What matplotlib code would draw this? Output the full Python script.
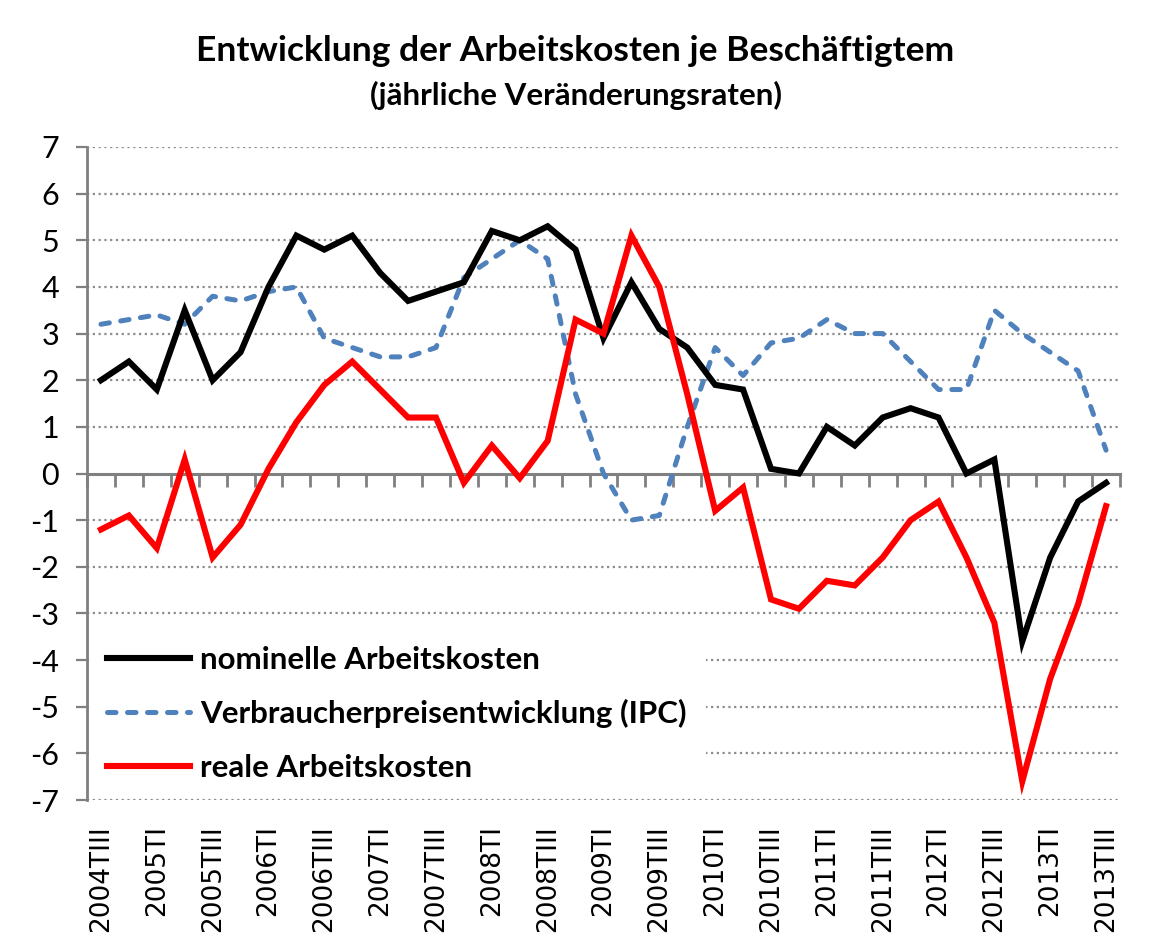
import matplotlib
matplotlib.use("Agg")
import matplotlib.pyplot as plt
from matplotlib.ticker import FixedLocator, NullFormatter

quarters = [
    "2004TIII", "2004TIV",
    "2005TI", "2005TII", "2005TIII", "2005TIV",
    "2006TI", "2006TII", "2006TIII", "2006TIV",
    "2007TI", "2007TII", "2007TIII", "2007TIV",
    "2008TI", "2008TII", "2008TIII", "2008TIV",
    "2009TI", "2009TII", "2009TIII", "2009TIV",
    "2010TI", "2010TII", "2010TIII", "2010TIV",
    "2011TI", "2011TII", "2011TIII", "2011TIV",
    "2012TI", "2012TII", "2012TIII", "2012TIV",
    "2013TI", "2013TII", "2013TIII",
]

nominelle = [2.0, 2.4, 1.8, 3.5, 2.0, 2.6, 4.0, 5.1, 4.8, 5.1,
             4.3, 3.7, 3.9, 4.1, 5.2, 5.0, 5.3, 4.8, 2.9, 4.1,
             3.1, 2.7, 1.9, 1.8, 0.1, 0.0, 1.0, 0.6, 1.2, 1.4,
             1.2, 0.0, 0.3, -3.6, -1.8, -0.6, -0.2]

ipc = [3.2, 3.3, 3.4, 3.2, 3.8, 3.7, 3.9, 4.0, 2.9, 2.7,
       2.5, 2.5, 2.7, 4.2, 4.6, 5.0, 4.6, 1.7, 0.0, -1.0,
       -0.9, 1.0, 2.7, 2.1, 2.8, 2.9, 3.3, 3.0, 3.0, 2.4,
       1.8, 1.8, 3.5, 3.0, 2.6, 2.2, 0.5]

reale = [-1.2, -0.9, -1.6, 0.3, -1.8, -1.1, 0.1, 1.1, 1.9, 2.4,
         1.8, 1.2, 1.2, -0.2, 0.6, -0.1, 0.7, 3.3, 3.0, 5.1,
         4.0, 1.7, -0.8, -0.3, -2.7, -2.9, -2.3, -2.4, -1.8, -1.0,
         -0.6, -1.8, -3.2, -6.6, -4.4, -2.8, -0.7]

series_labels = ["nominelle Arbeitskosten",
                 "Verbraucherpreisentwicklung (IPC)",
                 "reale Arbeitskosten"]
y_ticks = list(range(-7, 8))
y_min, y_max = -7, 7

title = "Entwicklung der Arbeitskosten je Beschäftigtem"
subtitle = "(jährliche Veränderungsraten)"

FONT = "Lato"
GRID = "#8c8c8c"
AXIS = "#808080"

left, right, top, bottom = 87, 1120, 147, 800
W, H = 1151, 939
rect = [left / W, 1 - bottom / H, (right - left) / W, (bottom - top) / H]
fig = plt.figure(figsize=(W / 100, H / 100), dpi=100)

xlim = (-0.5, len(quarters) - 0.5)

# thin axes whose bottom spine is the zero line, carrying the category tick marks
zero_frac = (0 - y_min) / (y_max - y_min)
ax_zero = fig.add_axes([rect[0], rect[1] + rect[3] * zero_frac, rect[2], 0.001])
ax_zero.set_xlim(*xlim)
ax_zero.patch.set_visible(False)
for s in ["top", "left", "right"]:
    ax_zero.spines[s].set_visible(False)
ax_zero.spines["bottom"].set_color(AXIS)
ax_zero.spines["bottom"].set_linewidth(2.2)
ax_zero.xaxis.set_major_locator(FixedLocator([i - 0.5 for i in range(len(quarters) + 1)]))
ax_zero.xaxis.set_major_formatter(NullFormatter())
ax_zero.tick_params(axis="x", direction="out", length=9, width=2, color=AXIS)
ax_zero.set_yticks([])

# invisible axes that only carries the category labels at the bottom
ax_lab = fig.add_axes(rect, frameon=False)
ax_lab.set_xlim(*xlim)
ax_lab.set_xticks(list(range(0, len(quarters), 2)))
ax_lab.set_xticklabels(quarters[::2], rotation=90, fontfamily="DejaVu Sans", fontsize=19)
ax_lab.tick_params(axis="x", length=0, pad=18)
ax_lab.set_yticks([])

ax = fig.add_axes(rect)
ax.patch.set_visible(False)

x = list(range(len(quarters)))
ax.plot(x, nominelle, color="black", lw=4.4, solid_joinstyle="miter", label=series_labels[0], zorder=4)
ax.plot(x, ipc, color="#4f81bd", lw=3.6, dashes=(1.7, 2.3), dash_capstyle="round",
        label=series_labels[1], zorder=3)
ax.plot(x, reale, color="#ff0000", lw=4.4, solid_joinstyle="miter", label=series_labels[2], zorder=5)

ax.set_xlim(*xlim)
ax.set_ylim(y_min, y_max)
ax.set_xticks([])

# y axis
ax.set_yticks(y_ticks)
ax.set_yticklabels([str(v) for v in y_ticks], fontfamily=FONT, fontsize=22)
ax.tick_params(axis="y", direction="out", length=8, width=1.6, color=AXIS, pad=12)
for v in y_ticks:
    if v != 0:
        ax.axhline(v, color=GRID, lw=1.6, ls=(0, (1, 1.6)), zorder=7 if v == -7 else 1)

for s in ["top", "right", "bottom"]:
    ax.spines[s].set_visible(False)
ax.spines["left"].set_color(AXIS)
ax.spines["left"].set_linewidth(2)
ax.spines["left"].set_zorder(8)

leg = ax.legend(loc="upper left", bbox_to_anchor=(0.0015, 0.265), frameon=True, fancybox=False,
                facecolor="white", edgecolor="none", framealpha=1,
                prop={"family": FONT, "weight": "bold", "size": 22.5},
                handlelength=2.65, handletextpad=0.33, labelspacing=0.82, borderpad=0.6,
                borderaxespad=0.0)
leg.set_zorder(6)

fig.text(0.5, 1 - 51 / H, title, ha="center", va="center", fontfamily=FONT,
         fontweight="bold", fontsize=25.5)
fig.text(0.5, 1 - 95 / H, subtitle, ha="center", va="center", fontfamily=FONT,
         fontweight="bold", fontsize=22.5)

fig.savefig("out.png", dpi=100, facecolor="white")
